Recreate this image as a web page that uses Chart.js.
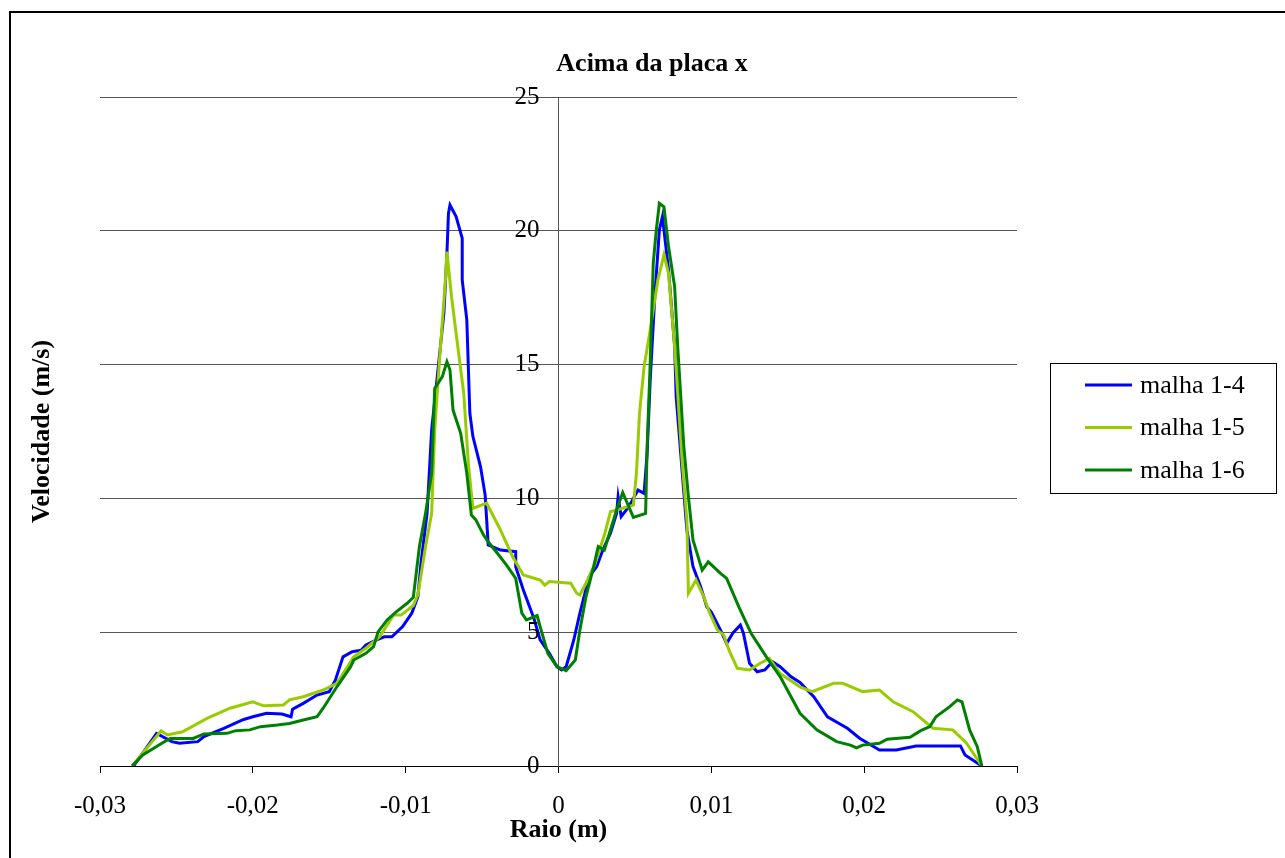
<!DOCTYPE html>
<html>
<head>
<meta charset="utf-8">
<script src="https://cdn.jsdelivr.net/npm/chart.js@4.4.1/dist/chart.umd.min.js"></script>
<style>
  html, body { margin: 0; padding: 0; background: #fff; }
  #wrap { width: 1285px; height: 858px; position: relative; }
</style>
</head>
<body>
<div id="wrap"><canvas id="chart" width="1285" height="858"></canvas></div>
<script>
const chartTitle = 'Acima da placa x';
const xTitle = 'Raio (m)';
const yTitle = 'Velocidade (m/s)';
const seriesNames = ['malha 1-4', 'malha 1-5', 'malha 1-6'];
const seriesColors = ['#0000ff', '#99cc00', '#008000'];

// malha 1-4
const raio14 = [-0.0278,-0.0263,-0.0253,-0.0248,-0.0236,-0.0232,-0.0219,-0.0206,-0.0200,-0.0191,
  -0.0181,-0.0175,-0.0174,-0.0167,-0.0158,-0.0150,-0.0146,-0.0141,-0.0135,-0.0129,
  -0.0126,-0.0119,-0.0114,-0.0109,-0.0102,-0.0096,-0.0092,-0.0090,-0.0086,-0.0083,
  -0.0080,-0.0075,-0.0073,-0.0072,-0.0071,-0.0067,-0.0063,-0.0063,-0.0060,-0.0058,
  -0.0056,-0.0051,-0.0048,-0.0046,-0.0038,-0.0028,-0.0028,-0.0023,-0.0016,-0.0012,
  -0.0006,-0.0001,0.0002,0.0005,0.0010,0.0014,0.0020,0.0025,0.0029,0.0034,
  0.0038,0.0039,0.0041,0.0046,0.0052,0.0056,0.0058,0.0060,0.0063,0.0066,
  0.0068,0.0072,0.0076,0.0077,0.0081,0.0084,0.0088,0.0093,0.0097,0.0100,
  0.0106,0.0110,0.0114,0.0119,0.0121,0.0125,0.0130,0.0135,0.0140,0.0145,
  0.0152,0.0158,0.0167,0.0176,0.0189,0.0197,0.0210,0.0221,0.0234,0.0263,
  0.0266,0.0277];
const vel14 = [0,1.22,0.91,0.85,0.91,1.10,1.41,1.74,1.84,1.97,
  1.94,1.84,2.12,2.34,2.65,2.78,3.21,4.08,4.27,4.33,
  4.52,4.71,4.83,4.83,5.21,5.71,6.33,7.57,9.44,12.56,
  14.17,16.92,19.16,20.65,20.96,20.53,19.72,18.16,16.67,13.18,
  12.31,11.18,10.13,8.26,8.07,8.01,7.45,6.58,5.50,4.71,
  4.21,3.71,3.59,3.71,4.71,5.71,7.07,7.45,8.07,8.70,
  9.44,10.06,9.32,9.69,10.31,10.19,11.69,14.42,17.54,20.03,
  20.53,18.54,15.67,13.80,10.94,8.82,7.45,6.70,5.95,5.75,
  5.08,4.58,4.96,5.27,4.96,3.84,3.52,3.59,3.90,3.71,
  3.34,3.12,2.59,1.84,1.41,1.04,0.60,0.60,0.75,0.75,
  0.41,0];

// malha 1-5
const raio15 = [-0.0279,-0.0260,-0.0256,-0.0246,-0.0230,-0.0215,-0.0200,-0.0193,-0.0180,-0.0176,
  -0.0167,-0.0154,-0.0145,-0.0134,-0.0126,-0.0117,-0.0108,-0.0103,-0.0095,-0.0092,
  -0.0087,-0.0083,-0.0081,-0.0078,-0.0074,-0.0073,-0.0070,-0.0067,-0.0062,-0.0059,
  -0.0056,-0.0047,-0.0038,-0.0030,-0.0023,-0.0012,-0.0009,-0.0006,0.0008,0.0012,
  0.0014,0.0018,0.0024,0.0030,0.0034,0.0049,0.0051,0.0053,0.0056,0.0060,
  0.0065,0.0069,0.0072,0.0076,0.0081,0.0084,0.0085,0.0090,0.0095,0.0099,
  0.0104,0.0108,0.0112,0.0117,0.0125,0.0132,0.0138,0.0145,0.0158,0.0166,
  0.0180,0.0186,0.0199,0.0210,0.0219,0.0232,0.0245,0.0258,0.0267,0.0277];
const vel15 = [0,1.32,1.16,1.28,1.78,2.16,2.40,2.25,2.28,2.47,
  2.59,2.84,3.09,4.08,4.40,4.83,5.64,5.64,6.00,6.40,
  8.20,9.44,12.56,15.05,18.16,19.22,17.54,16.17,13.92,11.31,
  9.63,9.82,8.82,7.82,7.14,6.95,6.76,6.89,6.83,6.45,
  6.39,6.83,7.57,8.63,9.50,9.75,10.94,13.18,14.92,16.29,
  18.16,19.10,18.41,15.67,11.31,9.19,6.45,6.95,6.33,5.71,
  5.08,4.90,4.27,3.65,3.59,3.84,4.02,3.46,2.96,2.78,
  3.09,3.09,2.78,2.84,2.40,2.03,1.41,1.35,0.85,0];

// malha 1-6
const raio16 = [-0.0279,-0.0272,-0.0259,-0.0254,-0.0239,-0.0232,-0.0217,-0.0211,-0.0202,-0.0195,
  -0.0184,-0.0176,-0.0167,-0.0158,-0.0154,-0.0145,-0.0136,-0.0134,-0.0126,-0.0121,
  -0.0118,-0.0112,-0.0106,-0.0099,-0.0095,-0.0091,-0.0087,-0.0083,-0.0081,-0.0076,
  -0.0073,-0.0071,-0.0069,-0.0064,-0.0060,-0.0057,-0.0054,-0.0049,-0.0046,-0.0040,
  -0.0034,-0.0028,-0.0024,-0.0021,-0.0014,-0.0012,-0.0007,-0.0001,0.0005,0.0011,
  0.0014,0.0018,0.0023,0.0026,0.0030,0.0034,0.0038,0.0042,0.0046,0.0049,
  0.0057,0.0058,0.0060,0.0062,0.0064,0.0066,0.0069,0.0072,0.0076,0.0078,
  0.0082,0.0085,0.0088,0.0094,0.0098,0.0106,0.0110,0.0118,0.0124,0.0126,
  0.0136,0.0145,0.0151,0.0158,0.0169,0.0182,0.0191,0.0195,0.0199,0.0210,
  0.0215,0.0230,0.0237,0.0243,0.0247,0.0256,0.0261,0.0264,0.0269,0.0274,0.0277];
const vel16 = [0,0.41,0.87,1.03,1.03,1.20,1.22,1.32,1.35,1.47,
  1.53,1.59,1.72,1.84,2.16,2.96,3.71,3.96,4.21,4.46,
  5.02,5.46,5.77,6.08,6.30,8.20,9.44,10.94,14.11,14.55,
  15.11,14.80,13.30,12.43,10.94,9.38,9.19,8.63,8.38,7.95,
  7.51,7.01,5.71,5.46,5.62,5.21,4.21,3.71,3.56,3.96,
  5.08,6.33,7.45,8.20,8.07,8.82,9.57,10.22,9.69,9.29,
  9.44,11.93,15.05,18.79,20.03,21.03,20.90,19.41,17.91,15.67,
  11.93,10.06,8.45,7.32,7.63,7.20,7.01,5.95,5.21,4.96,
  4.08,3.34,2.71,1.97,1.35,0.91,0.78,0.68,0.78,0.85,
  1.00,1.07,1.32,1.47,1.84,2.22,2.47,2.40,1.35,0.72,0];

const raioLists = [raio14, raio15, raio16];
const velLists = [vel14, vel15, vel16];

const serif = "'Liberation Serif', 'Times New Roman', serif";

function toPoints(xs, ys) {
  return xs.map((x, i) => ({ x: x, y: ys[i] }));
}

// frame, title, y labels, y title and legend box drawn on the canvas
const extrasPlugin = {
  id: 'extras',
  afterDraw(chart) {
    const ctx = chart.ctx;
    const area = chart.chartArea;
    const xs = chart.scales.x;
    const ys = chart.scales.y;
    ctx.save();
    ctx.strokeStyle = '#000';
    ctx.lineWidth = 2;
    ctx.strokeRect(10, 12, 1300, 900);

    ctx.fillStyle = '#000';
    ctx.font = 'bold 26px ' + serif;
    ctx.textAlign = 'center';
    ctx.textBaseline = 'middle';
    ctx.fillText(chartTitle, 652, 64);

    ctx.save();
    ctx.translate(42, (area.top + area.bottom) / 2);
    ctx.rotate(-Math.PI / 2);
    ctx.fillText(yTitle, 0, 0);
    ctx.restore();

    // y tick labels to the left of the centred axis
    const axisX = xs.getPixelForValue(0);
    ctx.font = '25px ' + serif;
    ctx.textAlign = 'right';
    ys.ticks.forEach(t => {
      ctx.fillText(String(t.value), axisX - 19, ys.getPixelForValue(t.value));
    });

    // legend
    ctx.lineWidth = 1;
    ctx.strokeStyle = '#000';
    ctx.strokeRect(1050.5, 363.5, 226, 130);
    ctx.font = '26px ' + serif;
    ctx.textAlign = 'left';
    seriesNames.forEach((name, i) => {
      const y = 385 + i * 42.5;
      ctx.strokeStyle = seriesColors[i];
      ctx.lineWidth = 3;
      ctx.beginPath();
      ctx.moveTo(1085, y);
      ctx.lineTo(1132, y);
      ctx.stroke();
      ctx.fillStyle = '#000';
      ctx.fillText(name, 1140, y + 1);
    });
    ctx.restore();
  }
};

function fmt(v) {
  if (Math.abs(v) < 1e-9) return '0';
  return v.toFixed(2).replace('.', ',');
}

const ctx = document.getElementById('chart').getContext('2d');
new Chart(ctx, {
  type: 'line',
  data: {
    datasets: seriesNames.map((name, i) => ({
      label: name,
      data: toPoints(raioLists[i], velLists[i]),
      borderColor: seriesColors[i],
      backgroundColor: seriesColors[i],
      borderWidth: 3,
      pointRadius: 0,
      tension: 0,
      order: 2 - i
    }))
  },
  options: {
    responsive: false,
    animation: false,
    events: [],
    layout: { padding: { left: 100, right: 268, top: 97, bottom: 0 } },
    plugins: {
      legend: { display: false },
      title: { display: false },
      tooltip: { enabled: false }
    },
    scales: {
      x: {
        type: 'linear',
        min: -0.03,
        max: 0.03,
        afterFit(scale) { scale.height = 92; },
        ticks: {
          stepSize: 0.01,
          color: '#000',
          padding: 18,
          maxRotation: 0,
          font: { family: serif, size: 25 },
          callback: (v) => fmt(v)
        },
        grid: { drawOnChartArea: false, drawTicks: true, tickLength: 7, color: '#000' },
        border: { color: '#000', width: 1 },
        title: {
          display: true,
          text: xTitle,
          color: '#000',
          font: { family: serif, size: 26, weight: 'bold' },
          padding: { top: 0, bottom: 12 }
        }
      },
      y: {
        position: { x: 0 },
        min: 0,
        max: 25,
        ticks: {
          stepSize: 5,
          display: false,
          font: { family: serif, size: 25 }
        },
        grid: { color: '#555', tickLength: 7, lineWidth: 1 },
        border: { color: '#555', width: 1 }
      }
    }
  },
  plugins: [extrasPlugin]
});
</script>
</body>
</html>
